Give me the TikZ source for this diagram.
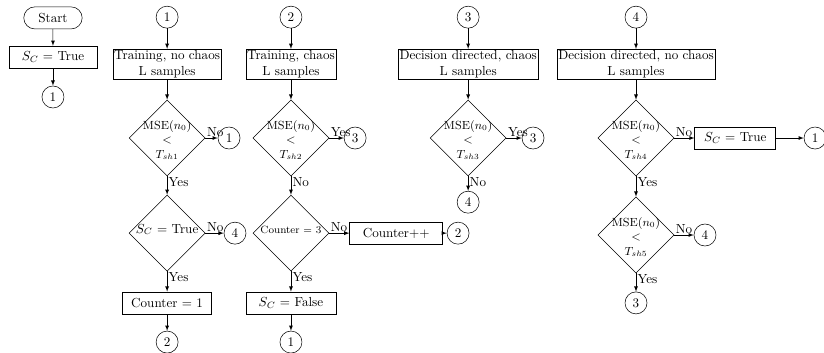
\documentclass[tikz,border=0pt]{standalone}
\usepackage{amsmath,amsfonts}
\usepackage{tikz}
\usetikzlibrary{shapes.geometric,shapes.misc}

% text of a test box, kept from widening the diamond
\newcommand{\dtext}[1]{\makebox[0pt]{\smash{\begin{tabular}{@{}c@{}}#1\end{tabular}}}}
% the MSE threshold test
\newcommand{\msetext}[1]{\makebox[0pt]{\smash{\raisebox{-4.5pt}{\small
  \begin{tabular}{@{}c@{}}MSE$(n_0)$\\$<$\\$T_{#1}$\end{tabular}}}}}

\begin{document}
\begin{tikzpicture}[>=latex,
  conn/.style={circle, draw=black, inner sep=0pt, minimum size=0.59cm},
  proc/.style={rectangle, draw=black, inner sep=1pt, minimum height=0.59cm, align=center},
  test/.style={diamond, draw=black, inner sep=0pt, minimum size=2.04cm},
  term/.style={rounded rectangle, draw=black, minimum width=1.8cm, minimum height=0.59cm},
  lab/.style={inner sep=1pt}]
\useasboundingbox (0,0) rectangle (22.09,-9.44);
% start
\node[term] (start) at (1.42,-0.48) {Start};
\node[proc, minimum width=2.36cm] (sc0) at (1.42,-1.53) {$S_C$ = True};
\node[conn] (c0) at (1.42,-2.60) {1};
\draw[->] (start)--(sc0);
\draw[->] (sc0)--(c0);
% 1: training, no chaos
\node[conn] (in1) at (4.48,-0.46) {1};
\node[proc] (tr1) at (4.48,-1.72) {Training, no chaos\\L samples};
\node[test] (d11) at (4.48,-3.70) {\msetext{sh1}};
\node[conn] (o11) at (6.14,-3.70) {1};
\node[test] (d12) at (4.48,-6.25) {\dtext{$S_C$ = True}};
\node[conn] (o12) at (6.30,-6.25) {4};
\node[proc, minimum width=2.39cm] (cnt1) at (4.48,-8.12) {Counter = 1};
\node[conn] (o13) at (4.48,-9.17) {2};
\draw[->] (in1)--(tr1);
\draw[->] (tr1)--(d11);
\draw[->] (d11)--node[lab, pos=0, anchor=south west]{No}(o11);
\draw[->] (d11)--node[lab, pos=0, anchor=north west]{Yes}(d12);
\draw[->] (d12)--node[lab, pos=0, anchor=south west]{No}(o12);
\draw[->] (d12)--node[lab, pos=0, anchor=north west]{Yes}(cnt1);
\draw[->] (cnt1)--(o13);
% 2: training, chaos
\node[conn] (in2) at (7.80,-0.46) {2};
\node[proc] (tr2) at (7.80,-1.72) {Training, chaos\\L samples};
\node[test] (d21) at (7.80,-3.70) {\msetext{sh2}};
\node[conn] (o21) at (9.52,-3.70) {3};
\node[test] (d22) at (7.80,-6.25) {\dtext{\footnotesize Counter = 3}};
\node[proc, minimum width=2.49cm] (inc) at (10.62,-6.25) {Counter++};
\node[conn] (o22) at (12.28,-6.25) {2};
\node[proc, minimum width=2.41cm] (scf) at (7.80,-8.12) {$S_C$ = False};
\node[conn] (o23) at (7.80,-9.17) {1};
\draw[->] (in2)--(tr2);
\draw[->] (tr2)--(d21);
\draw[->] (d21)--node[lab, pos=0, anchor=south west]{Yes}(o21);
\draw[->] (d21)--node[lab, pos=0, anchor=north west]{No}(d22);
\draw[->] (d22)--node[lab, pos=0, anchor=south west]{No}(inc);
\draw[->] (inc)--(o22);
\draw[->] (d22)--node[lab, pos=0, anchor=north west]{Yes}(scf);
\draw[->] (scf)--(o23);
% 3: decision directed, chaos
\node[conn] (in3) at (12.55,-0.46) {3};
\node[proc] (dd3) at (12.55,-1.72) {Decision directed, chaos\\L samples};
\node[test] (d31) at (12.55,-3.70) {\msetext{sh3}};
\node[conn] (o31) at (14.29,-3.70) {3};
\node[conn] (o32) at (12.55,-5.42) {4};
\draw[->] (in3)--(dd3);
\draw[->] (dd3)--(d31);
\draw[->] (d31)--node[lab, pos=0, anchor=south west]{Yes}(o31);
\draw[->] (d31)--node[lab, pos=0, anchor=north west]{No}(o32);
% 4: decision directed, no chaos
\node[conn] (in4) at (17.05,-0.46) {4};
\node[proc] (dd4) at (17.05,-1.72) {Decision directed, no chaos\\L samples};
\node[test] (d41) at (17.05,-3.70) {\msetext{sh4}};
\node[proc, minimum width=2.17cm] (sc4) at (19.71,-3.70) {$S_C$ = True};
\node[conn] (o41) at (21.85,-3.70) {1};
\node[test] (d42) at (17.05,-6.30) {\msetext{sh5}};
\node[conn] (o42) at (18.90,-6.30) {4};
\node[conn] (o43) at (17.05,-8.12) {3};
\draw[->] (in4)--(dd4);
\draw[->] (dd4)--(d41);
\draw[->] (d41)--node[lab, pos=0, anchor=south west]{No}(sc4);
\draw[->] (sc4)--(o41);
\draw[->] (d41)--node[lab, pos=0, anchor=north west]{Yes}(d42);
\draw[->] (d42)--node[lab, pos=0, anchor=south west]{No}(o42);
\draw[->] (d42)--node[lab, pos=0, anchor=north west]{Yes}(o43);
\end{tikzpicture}
\end{document}
